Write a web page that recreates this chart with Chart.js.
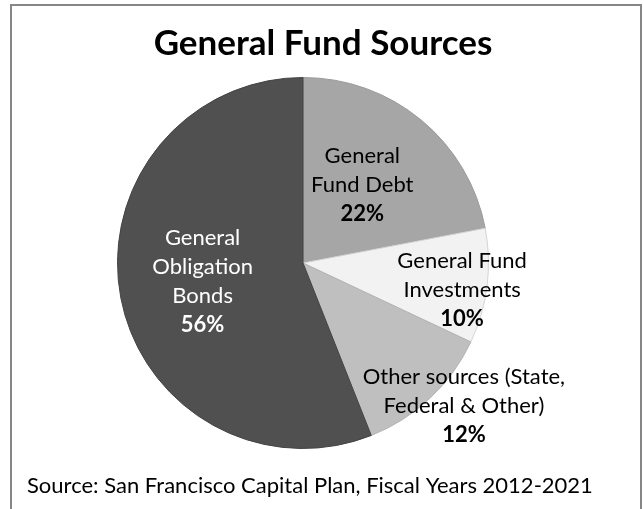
<!DOCTYPE html>
<html>
<head>
<meta charset="utf-8">
<script src="https://cdn.jsdelivr.net/npm/chart.js@4/dist/chart.umd.min.js"></script>
<style>
  html, body { margin: 0; padding: 0; background: #ffffff; }
  #wrap { position: relative; width: 644px; height: 509px; }
</style>
</head>
<body>
<div id="wrap"><canvas id="chart" width="644" height="509"></canvas></div>
<script>
// Funding sources and their shares of the general fund (percent)
const categories = [
  'General Fund Debt',
  'General Fund Investments',
  'Other sources (State, Federal & Other)',
  'General Obligation Bonds'
];
const shares = [22, 10, 12, 56];

// Text lines of each slice label (the percentage is appended below them)
const labelLines = [
  ['General', 'Fund Debt'],
  ['General Fund', 'Investments'],
  ['Other sources (State,', 'Federal & Other)'],
  ['General', 'Obligation', 'Bonds']
];

const titleText = 'General Fund Sources';
const sourceText = 'Source: San Francisco Capital Plan, Fiscal Years 2012-2021';

// Styling
const sliceColors  = ['#a6a6a6', '#f2f2f2', '#bfbfbf', '#505050'];
const sliceBorders = ['#9a9a9a', '#d4d4d4', '#b3b3b3', '#444444'];
const labelColors  = ['#000000', '#000000', '#000000', '#ffffff'];
// where each label block sits: fraction of the radius along the slice's
// middle angle, plus a small angular shift in degrees
const labelPlacement = [
  { r: 0.53, shift: -2.5 },
  { r: 0.87, shift: 2.4 },
  { r: 1.16, shift: -5.2 },
  { r: 0.55, shift: 0.6 }
];
const FONT = 'Lato, "Open Sans", sans-serif';

// Frame, title, slice labels and source note
const decorations = {
  id: 'decorations',
  beforeDraw(chart) {
    const ctx = chart.ctx;
    ctx.save();
    ctx.fillStyle = '#ffffff';
    ctx.fillRect(0, 0, chart.width, chart.height);
    ctx.strokeStyle = '#868686';
    ctx.lineWidth = 2;
    ctx.strokeRect(11, 5, 630, 560);
    ctx.restore();
  },
  afterDraw(chart) {
    const ctx = chart.ctx;
    ctx.save();
    // title
    ctx.fillStyle = '#000000';
    ctx.textAlign = 'center';
    ctx.textBaseline = 'middle';
    ctx.font = 'bold 35px ' + FONT;
    ctx.fillText(titleText, 323, 44);

    // slice labels
    const total = shares.reduce((a, b) => a + b, 0);
    const meta = chart.getDatasetMeta(0);
    meta.data.forEach((arc, i) => {
      const p = arc.getProps(['x', 'y', 'startAngle', 'endAngle', 'outerRadius'], true);
      const mid = (p.startAngle + p.endAngle) / 2 + labelPlacement[i].shift * Math.PI / 180;
      const rr = p.outerRadius * labelPlacement[i].r;
      const cx = p.x + Math.cos(mid) * rr;
      const cy = p.y + Math.sin(mid) * rr;
      const pct = Math.round(shares[i] / total * 100) + '%';
      const lines = labelLines[i].concat([pct]);
      const lh = 29;
      const top = cy - (lines.length - 1) * lh / 2;
      ctx.fillStyle = labelColors[i];
      lines.forEach((t, k) => {
        ctx.font = (k === lines.length - 1 ? 'bold ' : '') + '22px ' + FONT;
        ctx.fillText(t, cx, top + k * lh);
      });
    });

    // source note
    ctx.fillStyle = '#000000';
    ctx.textAlign = 'left';
    ctx.font = '22px ' + FONT;
    ctx.fillText(sourceText, 27, 486);
    ctx.restore();
  }
};

new Chart(document.getElementById('chart'), {
  type: 'pie',
  data: {
    labels: categories,
    datasets: [{
      data: shares,
      backgroundColor: sliceColors,
      borderColor: sliceBorders,
      borderWidth: 1
    }]
  },
  options: {
    responsive: false,
    animation: false,
    events: [],
    layout: { padding: { left: 117, right: 155, top: 77, bottom: 60 } },
    plugins: {
      legend: { display: false },
      title: { display: false },
      tooltip: { enabled: false }
    }
  },
  plugins: [decorations]
});
</script>
</body>
</html>
